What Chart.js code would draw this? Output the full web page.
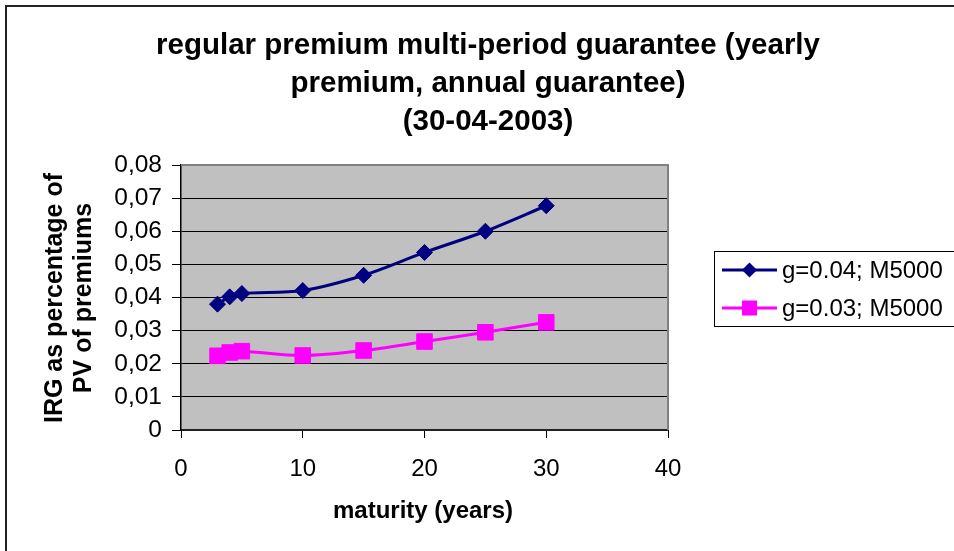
<!DOCTYPE html>
<html>
<head>
<meta charset="utf-8">
<script src="https://cdn.jsdelivr.net/npm/chart.js@4/dist/chart.umd.min.js"></script>
<style>
  html, body { margin: 0; padding: 0; background: #fff; overflow: hidden; }
  #wrap { width: 954px; height: 551px; position: relative; }
  canvas { display: block; }
</style>
</head>
<body>
<div id="wrap"><canvas id="c" width="954" height="551"></canvas></div>
<script>
// Maturities (years) and IRG as a fraction of the PV of premiums
const maturities = [3, 4, 5, 10, 15, 20, 25, 30];
const irgG04 = [0.0380, 0.0402, 0.0412, 0.0421, 0.0467, 0.0536, 0.0600, 0.0677];
const irgG03 = [0.0224, 0.0234, 0.0238, 0.0225, 0.0240, 0.0267, 0.0295, 0.0325];
const seriesNames = ['g=0.04; M5000', 'g=0.03; M5000'];
const titleLines = ['regular premium multi-period guarantee (yearly', 'premium, annual guarantee)', '(30-04-2003)'];
const xTitle = 'maturity (years)';
const yTitleLines = ['IRG as percentage of', 'PV of premiums'];
const xTicks = [0, 10, 20, 30, 40];
const yTicks = [0, 0.01, 0.02, 0.03, 0.04, 0.05, 0.06, 0.07, 0.08];

const SANS = "'Liberation Sans', Arial, sans-serif";
const NAVY = '#000080';
const MAGENTA = '#FF00FF';

function fmtComma(v) {
  if (Math.abs(v) < 1e-9) return '0';
  return v.toFixed(2).replace('.', ',');
}

// Page frame, plot background and plot border
const framePlugin = {
  id: 'frame',
  beforeDraw(chart) {
    const { ctx, chartArea: a } = chart;
    ctx.save();
    ctx.fillStyle = '#fff';
    ctx.fillRect(0, 0, chart.width, chart.height);
    ctx.strokeStyle = '#222';
    ctx.lineWidth = 2;
    ctx.beginPath();
    ctx.moveTo(6, chart.height + 2);
    ctx.lineTo(6, 6);
    ctx.lineTo(chart.width + 2, 6);
    ctx.stroke();
    ctx.fillStyle = '#C0C0C0';
    ctx.fillRect(a.left, a.top, a.right - a.left, a.bottom - a.top);
    ctx.restore();
  },
  beforeDatasetsDraw(chart) {
    const { ctx, chartArea: a } = chart;
    ctx.save();
    ctx.strokeStyle = '#808080';
    ctx.lineWidth = 2;
    ctx.beginPath();
    ctx.moveTo(a.left, a.top);
    ctx.lineTo(a.right, a.top);
    ctx.lineTo(a.right, a.bottom);
    ctx.stroke();
    ctx.restore();
  }
};

// Chart title, axis titles and the boxed legend
const textPlugin = {
  id: 'texts',
  afterDraw(chart) {
    const { ctx } = chart;
    ctx.save();
    ctx.fillStyle = '#000';
    ctx.textAlign = 'center';
    ctx.textBaseline = 'alphabetic';
    ctx.font = 'bold 29.5px ' + SANS;
    const titleBase = [54, 91.5, 129.5];
    titleLines.forEach((t, i) => ctx.fillText(t, 488, titleBase[i]));

    ctx.font = 'bold 24px ' + SANS;
    ctx.fillText(xTitle, 423, 518);

    ctx.save();
    ctx.translate(0, 298);
    ctx.rotate(-Math.PI / 2);
    ctx.font = 'bold 25px ' + SANS;
    const yBase = [62, 91];
    yTitleLines.forEach((t, i) => ctx.fillText(t, 0, yBase[i]));
    ctx.restore();

    // legend
    ctx.strokeStyle = '#000';
    ctx.lineWidth = 1;
    ctx.strokeRect(714.5, 251.5, 260, 75);
    const rows = [270, 308];
    const colors = [NAVY, MAGENTA];
    ctx.font = '24px ' + SANS;
    ctx.textAlign = 'left';
    ctx.textBaseline = 'middle';
    rows.forEach((y, i) => {
      ctx.strokeStyle = colors[i];
      ctx.fillStyle = colors[i];
      ctx.lineWidth = 3;
      ctx.beginPath();
      ctx.moveTo(722, y);
      ctx.lineTo(777, y);
      ctx.stroke();
      ctx.beginPath();
      if (i === 0) {
        const r = 7.5;
        ctx.moveTo(749.5 - r, y);
        ctx.lineTo(749.5, y - r);
        ctx.lineTo(749.5 + r, y);
        ctx.lineTo(749.5, y + r);
        ctx.closePath();
      } else {
        ctx.rect(749.5 - 7.5, y - 7.5, 15, 15);
      }
      ctx.fill();
      ctx.fillStyle = '#000';
      ctx.fillText(seriesNames[i], 782, y + 1);
    });
    ctx.restore();
  }
};

const toPoints = (ys) => maturities.map((x, i) => ({ x: x, y: ys[i] }));

new Chart(document.getElementById('c'), {
  type: 'line',
  data: {
    datasets: [
      {
        label: seriesNames[0],
        data: toPoints(irgG04),
        borderColor: NAVY,
        backgroundColor: NAVY,
        borderWidth: 3,
        tension: 0.33,
        pointStyle: 'rectRot',
        pointRadius: 8,
        pointBorderWidth: 1,
        pointBackgroundColor: NAVY,
        pointBorderColor: NAVY
      },
      {
        label: seriesNames[1],
        data: toPoints(irgG03),
        borderColor: MAGENTA,
        backgroundColor: MAGENTA,
        borderWidth: 3,
        tension: 0.33,
        pointStyle: 'rect',
        pointRadius: 11,
        pointBorderWidth: 1,
        pointBackgroundColor: MAGENTA,
        pointBorderColor: MAGENTA
      }
    ]
  },
  options: {
    responsive: false,
    animation: false,
    devicePixelRatio: 1,
    layout: { padding: { left: 0, top: 165, right: 286, bottom: 0 } },
    plugins: {
      legend: { display: false },
      title: { display: false },
      tooltip: { enabled: false }
    },
    scales: {
      x: {
        type: 'linear',
        min: 0,
        max: 40,
        afterFit(scale) { scale.height = 121; },
        afterBuildTicks(scale) { scale.ticks = xTicks.map(v => ({ value: v })); },
        grid: { drawOnChartArea: false, drawTicks: true, tickLength: 8, color: '#000', lineWidth: 1 },
        border: { display: true, color: '#222', width: 2 },
        ticks: {
          padding: 17,
          color: '#000',
          font: { family: SANS, size: 24 },
          maxRotation: 0,
          callback: (v) => String(v)
        }
      },
      y: {
        type: 'linear',
        min: 0,
        max: 0.08,
        afterFit(scale) { scale.width = 181; },
        afterBuildTicks(scale) { scale.ticks = yTicks.map(v => ({ value: v })); },
        grid: {
          drawTicks: true,
          tickLength: 9,
          lineWidth: 1,
          color: (c) => (c.tick && c.tick.value > 0.0799 ? 'rgba(0,0,0,0)' : '#000'),
          tickColor: '#000'
        },
        border: { display: true, color: '#000', width: 1.5 },
        ticks: {
          padding: 10,
          color: '#000',
          font: { family: SANS, size: 24.5 },
          callback: (v) => fmtComma(v)
        }
      }
    }
  },
  plugins: [framePlugin, textPlugin]
});
</script>
</body>
</html>
